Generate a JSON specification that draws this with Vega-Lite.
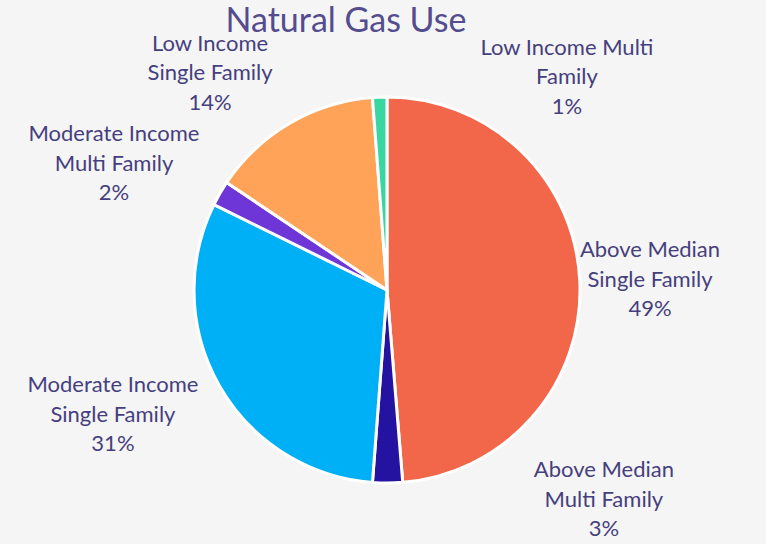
{
  "$schema": "https://vega.github.io/schema/vega-lite/v6.json",
  "width": 758,
  "height": 508,
  "autosize": {"type": "none"},
  "padding": {"left": 8, "top": 36, "right": 0, "bottom": 0},
  "background": "#f5f5f5",
  "title": {
    "text": "Natural Gas Use",
    "anchor": "middle",
    "dx": -41,
    "offset": -33,
    "baseline": "alphabetic",
    "font": "Lato",
    "fontSize": 34,
    "fontWeight": "normal",
    "color": "#544c8e"
  },
  "config": {"view": {"stroke": null}},
  "data": {
    "values": [
      {"rank": 1, "category": "Above Median Single Family", "value": 48.7, "label": "Above Median\nSingle Family\n49%"},
      {"rank": 2, "category": "Above Median Multi Family", "value": 2.5, "label": "Above Median\nMulti Family\n3%"},
      {"rank": 3, "category": "Moderate Income Single Family", "value": 31.1, "label": "Moderate Income\nSingle Family\n31%"},
      {"rank": 4, "category": "Moderate Income Multi Family", "value": 2.1, "label": "Moderate Income\nMulti Family\n2%"},
      {"rank": 5, "category": "Low Income Single Family", "value": 14.4, "label": "Low Income\nSingle Family\n14%"},
      {"rank": 6, "category": "Low Income Multi Family", "value": 1.2, "label": "Low Income Multi\nFamily\n1%"}
    ]
  },
  "transform": [
    {"stack": "value", "groupby": [], "sort": [{"field": "rank", "order": "ascending"}], "as": ["v0", "v1"]}
  ],
  "layer": [
    {
      "mark": {"type": "arc", "outerRadius": 193, "stroke": "white", "strokeWidth": 3},
      "encoding": {
        "theta": {"field": "v0", "type": "quantitative", "scale": {"domain": [0, 100]}},
        "theta2": {"field": "v1"},
        "color": {
          "field": "category",
          "type": "nominal",
          "legend": null,
          "scale": {
            "domain": ["Above Median Single Family", "Above Median Multi Family", "Moderate Income Single Family", "Moderate Income Multi Family", "Low Income Single Family", "Low Income Multi Family"],
            "range": ["#f2664a", "#2413a0", "#00b0f6", "#6e36d6", "#ffa358", "#38d6a0"]
          }
        }
      }
    },
    {
      "transform": [{"filter": "datum.rank == 1"}],
      "mark": {"type": "text", "radius": 200, "dx": 263, "dy": 160, "font": "Lato", "fontSize": 22, "color": "#463f7e", "lineBreak": "\n", "lineHeight": 29.5, "align": "center", "baseline": "middle"},
      "encoding": {"theta": {"field": "v0", "type": "quantitative"}, "text": {"field": "label"}}
    },
    {
      "transform": [{"filter": "datum.rank == 2"}],
      "mark": {"type": "text", "radius": 200, "dx": 200.6, "dy": -19.3, "font": "Lato", "fontSize": 22, "color": "#463f7e", "lineBreak": "\n", "lineHeight": 29.5, "align": "center", "baseline": "middle"},
      "encoding": {"theta": {"field": "v0", "type": "quantitative"}, "text": {"field": "label"}}
    },
    {
      "transform": [{"filter": "datum.rank == 3"}],
      "mark": {"type": "text", "radius": 200, "dx": -259, "dy": -104.4, "font": "Lato", "fontSize": 22, "color": "#463f7e", "lineBreak": "\n", "lineHeight": 29.5, "align": "center", "baseline": "middle"},
      "encoding": {"theta": {"field": "v0", "type": "quantitative"}, "text": {"field": "label"}}
    },
    {
      "transform": [{"filter": "datum.rank == 4"}],
      "mark": {"type": "text", "radius": 200, "dx": -93.7, "dy": -67.4, "font": "Lato", "fontSize": 22, "color": "#463f7e", "lineBreak": "\n", "lineHeight": 29.5, "align": "center", "baseline": "middle"},
      "encoding": {"theta": {"field": "v0", "type": "quantitative"}, "text": {"field": "label"}}
    },
    {
      "transform": [{"filter": "datum.rank == 5"}],
      "mark": {"type": "text", "radius": 200, "dx": -10.8, "dy": -134.7, "font": "Lato", "fontSize": 22, "color": "#463f7e", "lineBreak": "\n", "lineHeight": 29.5, "align": "center", "baseline": "middle"},
      "encoding": {"theta": {"field": "v0", "type": "quantitative"}, "text": {"field": "label"}}
    },
    {
      "transform": [{"filter": "datum.rank == 6"}],
      "mark": {"type": "text", "radius": 200, "dx": 195, "dy": -42.6, "font": "Lato", "fontSize": 22, "color": "#463f7e", "lineBreak": "\n", "lineHeight": 29.5, "align": "center", "baseline": "middle"},
      "encoding": {"theta": {"field": "v0", "type": "quantitative"}, "text": {"field": "label"}}
    }
  ]
}
